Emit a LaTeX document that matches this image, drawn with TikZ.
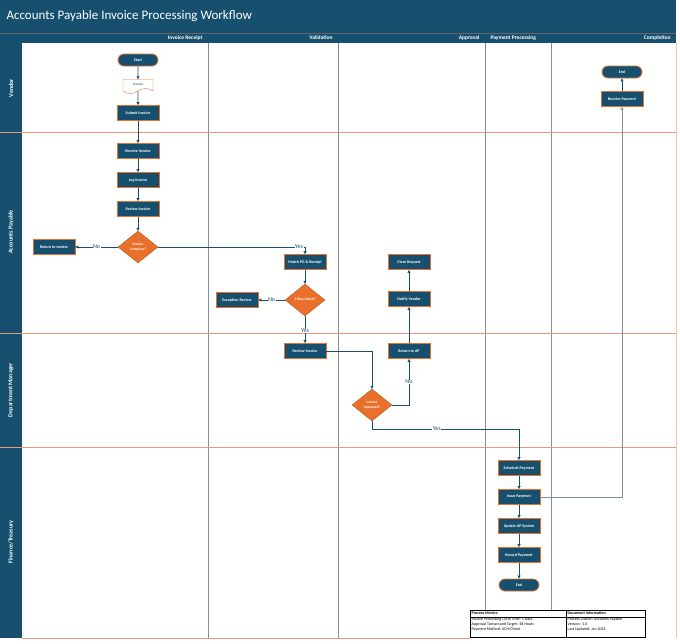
\documentclass[tikz,border=0pt]{standalone}
\usepackage{fontspec}
\setmainfont{Carlito}
\usetikzlibrary{shapes.geometric,shapes.symbols,shapes.misc,arrows.meta}
\definecolor{dk}{HTML}{16506E}
\definecolor{orn}{HTML}{E8702A}
\definecolor{rowl}{HTML}{F0967A}
\definecolor{coll}{HTML}{7D8FA0}
\begin{document}
\begin{tikzpicture}[x=1pt,y=-1pt,
 proc/.style={draw=orn,line width=0.8pt,fill=dk,minimum width=42pt,minimum height=15pt,inner sep=1pt,font=\fontsize{4}{5}\selectfont\bfseries,text=white},
 term/.style={proc,rounded rectangle,minimum height=12pt},
 dec/.style={diamond,fill=orn,draw=orn!80!black,line width=0.4pt,minimum width=40pt,minimum height=32pt,aspect=1.25,inner sep=0pt,font=\fontsize{3.6}{4.3}\selectfont\bfseries,text=white,align=center},
 doc/.style={tape,tape bend top=none,draw=orn,fill=white,minimum width=30pt,minimum height=14pt,inner sep=0pt,font=\fontsize{3.6}{4}\selectfont,text=dk},
 ar/.style={draw=dk,line width=0.6pt,-{Triangle[length=3pt,width=3pt]}},
 lab/.style={fill=white,inner sep=0.5pt,font=\fontsize{6}{7}\selectfont,text=dk},
 lane/.style={rotate=90,font=\fontsize{6}{7}\selectfont\bfseries,text=white},
 hdr/.style={font=\fontsize{5.5}{6.5}\selectfont\bfseries,text=white},
 tt/.style={font=\fontsize{4}{5}\selectfont,text=black,anchor=west,inner sep=0.5pt}]
\useasboundingbox (0,0) rectangle (680,643);
\fill[white] (0,0) rectangle (680,643);
% title & headers
\fill[dk] (0,0) rectangle (676,43);
\draw[black!60,line width=0.3pt] (0,33)--(676,33);
\node[anchor=west,text=white,font=\fontsize{13}{15}\selectfont] (title) at (3,16) {Accounts Payable Invoice Processing Workflow};
\node[hdr,anchor=east] (h1) at (206,38) {Invoice Receipt};
\node[hdr,anchor=east] (h2) at (336,38) {Validation};
\node[hdr,anchor=east] (h3) at (483,38) {Approval};
\node[hdr,anchor=west] (h4) at (487,38) {Payment Processing};
\node[hdr,anchor=east] (h5) at (674,38) {Completion};
\fill[dk] (0,43) rectangle (22,638);
% grid
\draw[coll,line width=0.6pt] (208,43)--(208,638) (338,43)--(338,638) (485,43)--(485,610) (551,43)--(551,610);
\draw[rowl,line width=0.6pt] (22,132)--(676,132) (0,132)--(22,132) (22,333)--(676,333) (0,333)--(22,333) (22,447)--(676,447) (0,447)--(22,447) (22,638)--(470,638);
\draw[rowl!60,line width=0.6pt] (676,43)--(676,638);
\node[lane] (l1) at (11,88) {Vendor};
\node[lane] (l2) at (11,232) {Accounts Payable};
\node[lane] (l3) at (11,390) {Department Manager};
\node[lane] (l4) at (11,542) {Finance/Treasury};
% nodes
\node[term] (start) at (138,60) {Start};
\node[doc] (inv) at (138,84) {Invoice};
\node[proc] (sub) at (138,113) {Submit Invoice};
\node[proc] (rcv) at (138,151) {Receive Invoice};
\node[proc] (log) at (138,180) {Log Invoice};
\node[proc] (rev) at (138,209) {Review Invoice};
\node[dec] (cmp) at (138,247) {Invoice\\Complete?};
\node[proc] (ret) at (54,247) {Return to vendor};
\node[proc] (mpo) at (305,262) {Match PO \& Receipt};
\node[dec] (twm) at (305,300) {3-Way Match?};
\node[proc] (exc) at (237,300) {Exception Review};
\node[proc] (rev2) at (305,351) {Review Invoice};
\node[dec] (apr) at (372,405) {Invoice\\Approved?};
\node[proc] (rap) at (409,351) {Return to AP};
\node[proc] (ntf) at (409,299) {Notify Vendor};
\node[proc] (cls) at (409,262) {Close Request};
\node[proc] (sch) at (519,468) {Schedule Payment};
\node[proc] (iss) at (519,497) {Issue Payment};
\node[proc] (upd) at (519,526) {Update AP System};
\node[proc] (rec) at (519,555) {Record Payment};
\node[term] (end1) at (519,585) {End};
\node[proc] (rpy) at (622,99) {Receive Payment};
\node[term] (end2) at (622,72) {End};
% edges
\draw[ar] (start)--(inv);
\draw[ar] (inv)--(sub);
\draw[ar] (sub)--(rcv);
\draw[ar] (rcv)--(log);
\draw[ar] (log)--(rev);
\draw[ar] (rev)--(cmp);
\draw[ar] (cmp)--(ret) node[lab,midway] {No};
\draw[ar] (cmp.east)-|(mpo.north) node[lab,pos=0.48] {Yes};
\draw[ar] (mpo)--(twm);
\draw[ar] (twm)--(exc) node[lab,midway] {No};
\draw[ar] (twm)--(rev2) node[lab,pos=0.55] {Yes};
\draw[ar] (rev2.east)-|(apr.north);
\draw[ar] (apr.east)-|(rap.south) node[lab,pos=0.75] {No};
\draw[ar] (rap)--(ntf);
\draw[ar] (ntf)--(cls);
\coordinate (yb) at (519,429);
\draw[ar] (apr.south)|-(yb) node[lab,pos=0.72] {Yes} --(sch.north);
\draw[ar] (sch)--(iss);
\draw[ar] (iss)--(upd);
\draw[ar] (upd)--(rec);
\draw[ar] (rec)--(end1);
\draw[coll,line width=0.6pt,-{Triangle[length=3pt,width=3pt]}] (iss.east)-|(rpy.south);
\draw[ar] (rpy)--(end2);
% tables
\draw[black,line width=0.4pt] (470,610) rectangle (645,637) (566,610)--(566,637) (470,617)--(645,617);
\node[tt,font=\fontsize{4}{5}\selectfont\bfseries] (t1) at (471,613.5) {Process Metrics};
\node[tt,font=\fontsize{4}{5}\selectfont\bfseries] (t2) at (567,613.5) {Document Information};
\node[tt,align=left,anchor=north west] (t3) at (471,617.5) {Invoice Processing Cycle Time: 5 Days\\Approval Turnaround Target: 48 Hours\\Payment Method: ACH/Check};
\node[tt,align=left,anchor=north west] (t4) at (567,617.5) {Process Owner: Accounts Payable\\Version: 1.0\\Last Updated: Jan 2025};
\end{tikzpicture}
\end{document}
